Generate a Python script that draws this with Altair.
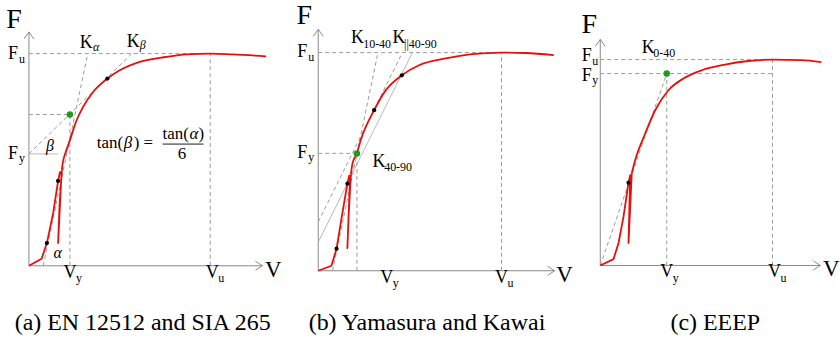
import altair as alt
import pandas as pd

# ---------------- data (V in % of Vu, F in % of Fu) ----------------
# (a) EN 12512 and SIA 265
a_curve_V = [0, 7.0, 9.9, 13.4, 16.1, 17.1, 18.0, 16.1, 16.9, 18.2, 18.5, 20.7, 22.6, 26.3, 29.9, 35.4, 43.3, 50.1, 61.1, 75.8, 86.8, 100, 112.4, 130.8]
a_curve_F = [0, 3.3, 10.7, 24.9, 40.0, 44.1, 44.1, 10.7, 28.7, 45.1, 47.5, 54.5, 59.2, 68.6, 74.9, 81.9, 88.2, 92.1, 96.1, 98.4, 99.6, 100, 99.6, 98.7]
a_smooth_from = 9
a_dots_V = [9.9, 16.1, 43.3]
a_dots_F = [10.7, 40.0, 88.2]
a_green = [22.6, 71.3]
a_Fy = 52.7
a_Kalpha = [7.9, 0, 32.1, 98.6]
a_Kbeta = [0, 52.7, 56.5, 99.8]
a_tips = [128.8, 110.2]

# (b) Yasumura and Kawai
b_curve_V = [0, 7.2, 10.0, 13.2, 15.9, 16.9, 17.4, 15.9, 16.6, 17.8, 18.7, 21.1, 23.2, 30.5, 36.9, 45.6, 55.0, 69.5, 84.0, 100, 113.1, 128.5]
b_curve_F = [0, 2.3, 10.1, 26.5, 39.9, 43.6, 43.4, 10.4, 25.6, 43.9, 49.2, 53.8, 59.9, 73.6, 82.8, 89.6, 94.2, 97.3, 99.3, 100, 99.8, 98.8]
b_smooth_from = 9
b_dots_V = [10.0, 15.9, 30.5, 45.6]
b_dots_F = [10.1, 39.9, 73.6, 89.6]
b_green = [21.1, 53.8]
b_K1040 = [7.8, 0, 32.3, 98.8]
b_Kpar = [0, 22.4, 45.2, 98.8]
b_K4090 = [0, 13.1, 51.2, 99.7]
b_tips = [129.0, 110.7]

# (c) EEEP
c_curve_V = [0, 7.7, 10.6, 13.5, 16.4, 17.4, 16.4, 17.3, 18.3, 20.3, 26.1, 31.9, 39.6, 48.3, 58.9, 72.4, 86.0, 100, 116.8, 128.4]
c_curve_F = [0, 3.1, 10.9, 23.7, 40.2, 43.9, 10.9, 27.0, 44.8, 51.2, 64.1, 75.4, 85.1, 90.8, 94.8, 97.6, 99.3, 100, 99.7, 98.8]
c_smooth_from = 8
c_dots_V = [16.4]
c_dots_F = [40.2]
c_green = [38.6, 93.2]
c_tips = [127.8, 109.8]

captions = ["(a) EN 12512 and SIA 265", "(b) Yamasura and Kawai", "(c) EEEP"]

# ---------------- styles / layout ----------------
H = 343
RED = "#e5100b"
AXIS = "#8a8a8a"
DASH = "#9c9c9c"
SERIF = "Liberation Serif"
CAPF = "Liberation Serif"

# x0, width, origin x (abs px), origin y, px per V unit, px per F unit
GEOM_A = (0, 280, 29.0, 266.0, 1.817, 2.127)
GEOM_B = (280, 290, 319.0, 271.0, 1.837, 2.187)
GEOM_C = (570, 270, 601.7, 265.7, 1.726, 2.064)


def build_panel(geom, curve_V, curve_F, smooth_from, dots_V, dots_F, green, dashed, thin, tips,
                labels, caption, cap_x, extra=None):
    x0, W, ox, oy, sx, sy = geom
    xs = alt.Scale(domain=[-(ox - x0) / sx, (x0 + W - ox) / sx], nice=False, zero=False)
    ys = alt.Scale(domain=[(oy - H) / sy, oy / sy], nice=False, zero=False)
    X = alt.X("V:Q", scale=xs, axis=None)
    Y = alt.Y("F:Q", scale=ys, axis=None)

    def segs(lst):
        return pd.DataFrame({"V": [s[0] for s in lst], "F": [s[1] for s in lst],
                             "V2": [s[2] for s in lst], "F2": [s[3] for s in lst]})

    layers = []
    # axes
    layers.append(alt.Chart(segs([[0, 0, tips[0], 0], [0, 0, 0, tips[1]]]))
                  .mark_rule(color=AXIS, strokeWidth=1)
                  .encode(x=X, y=Y, x2="V2:Q", y2="F2:Q"))
    layers.append(alt.Chart(pd.DataFrame({"V": [tips[0]], "F": [0]}))
                  .mark_point(shape="M-1,-0.65L0,0L-1,0.65", size=196, filled=False,
                              color=AXIS, strokeWidth=1, opacity=1)
                  .encode(x=X, y=Y))
    layers.append(alt.Chart(pd.DataFrame({"V": [0], "F": [tips[1]]}))
                  .mark_point(shape="M-0.7,1L0,0L0.7,1", size=196, filled=False,
                              color=AXIS, strokeWidth=1, opacity=1)
                  .encode(x=X, y=Y))
    # dashed guides
    layers.append(alt.Chart(segs(dashed))
                  .mark_rule(color=DASH, strokeWidth=1, strokeDash=[4, 3])
                  .encode(x=X, y=Y, x2="V2:Q", y2="F2:Q"))
    if thin:
        layers.append(alt.Chart(segs(thin))
                      .mark_rule(color="#a8a8a8", strokeWidth=0.8)
                      .encode(x=X, y=Y, x2="V2:Q", y2="F2:Q"))
    # curve: loading/unloading loop (straight), then the smooth envelope
    k = smooth_from
    loop_df = pd.DataFrame({"V": curve_V[:k + 1], "F": curve_F[:k + 1], "i": list(range(k + 1))})
    env_df = pd.DataFrame({"V": curve_V[k:], "F": curve_F[k:]})
    layers.append(alt.Chart(loop_df).mark_line(color=RED, strokeWidth=1.8, strokeJoin="round")
                  .encode(x=X, y=Y, order="i:Q"))
    layers.append(alt.Chart(env_df).mark_line(color=RED, strokeWidth=1.8, interpolate="monotone")
                  .encode(x=X, y=Y))
    layers.append(alt.Chart(pd.DataFrame({"V": dots_V, "F": dots_F}))
                  .mark_circle(color="black", size=18, opacity=1).encode(x=X, y=Y))
    layers.append(alt.Chart(pd.DataFrame({"V": [green[0]], "F": [green[1]]}))
                  .mark_circle(color="#1f9a1f", size=42, opacity=1).encode(x=X, y=Y))
    # labels anchored at data points
    for (v, f, t, size, dx, dy, align, italic) in labels:
        layers.append(alt.Chart(pd.DataFrame({"V": [v], "F": [f], "t": [t]}))
                      .mark_text(font=SERIF, fontSize=size, dx=dx, dy=dy, align=align,
                                 baseline="alphabetic", color="black",
                                 fontStyle="italic" if italic else "normal")
                      .encode(x=X, y=Y, text="t:N"))
    if extra:
        layers.extend(extra)
    layers.append(alt.Chart(pd.DataFrame({"t": [caption]}))
                  .mark_text(font=CAPF, fontSize=24, align="center", baseline="alphabetic",
                             color="black")
                  .encode(x=alt.value(cap_x), y=alt.value(330), text="t:N"))
    return alt.layer(*layers).properties(width=W, height=H)


BIG_F, BIG_V, MID, SUB = 28, 23, 18, 12

# ---- panel (a)
a_dashed = [[0, 100, 100, 100], [100, 0, 100, 100], [a_green[0], 0, a_green[0], a_green[1]],
            [0, a_green[1], a_green[0], a_green[1]], a_Kalpha, a_Kbeta]
a_thin = [[0, a_Fy, 16, a_Fy]]
a_labels = [
    (0, a_tips[1], "F", BIG_F, -15, -4, "center", False),
    (a_tips[0], 0, "V", BIG_V, 11, 11, "center", False),
    (0, 100, "F", MID, -11, 5, "right", False),
    (0, 100, "u", SUB, -10, 9, "left", False),
    (0, a_Fy, "F", MID, -11, 5, "right", False),
    (0, a_Fy, "y", SUB, -10, 8, "left", False),
    (0, a_Fy, "β", 16, 21, -3, "center", True),
    (a_Kalpha[0], 0, "α", 16, 14.5, -8, "center", True),
    (a_Kalpha[2], a_Kalpha[3], "K", MID, -7.3, -8.7, "left", False),
    (a_Kalpha[2], a_Kalpha[3], "α", SUB, 6, -5.5, "left", True),
    (a_Kbeta[2], a_Kbeta[3], "K", MID, -4.7, -7, "left", False),
    (a_Kbeta[2], a_Kbeta[3], "β", SUB, 8.5, -5, "left", True),
    (a_green[0], 0, "V", MID, 0, 12, "center", False),
    (a_green[0], 0, "y", SUB, 6, 16, "left", False),
    (100, 0, "V", MID, 2, 12, "center", False),
    (100, 0, "u", SUB, 8, 16, "left", False),
]


def ptext(t, x, y, size, align="center", italic=False):
    return (alt.Chart(pd.DataFrame({"t": [t]}))
            .mark_text(font=SERIF, fontSize=size, align=align, baseline="alphabetic", color="black",
                       fontStyle="italic" if italic else "normal")
            .encode(x=alt.value(x), y=alt.value(y), text="t:N"))


a_extra = [
    ptext("tan(", 97, 148, 17, "left"),
    ptext("β", 124, 148, 17, "left", True),
    ptext(") =", 134, 148, 17, "left"),
    ptext("tan(", 163, 139, 17, "left"),
    ptext("α", 190, 139, 17, "left", True),
    ptext(")", 199, 139, 17, "left"),
    ptext("6", 182.5, 159, 17),
    alt.Chart(pd.DataFrame({"k": [0]})).mark_rule(color="black", strokeWidth=0.9)
    .encode(x=alt.value(163), x2=alt.value(204), y=alt.value(144)),
]
pa = build_panel(GEOM_A, a_curve_V, a_curve_F, a_smooth_from, a_dots_V, a_dots_F, a_green, a_dashed,
                 a_thin, a_tips, a_labels, captions[0], 143, a_extra)

# ---- panel (b)
b_dashed = [[0, 100, 100, 100], [100, 0, 100, 100], [b_green[0], 0, b_green[0], b_green[1]],
            [0, b_green[1], b_green[0], b_green[1]], b_K1040, b_Kpar]
b_labels = [
    (0, b_tips[1], "F", BIG_F, -14, -5, "center", False),
    (b_tips[0], 0, "V", BIG_V, 10, 11, "center", False),
    (0, 100, "F", MID, -11, 4, "right", False),
    (0, 100, "u", SUB, -10, 8, "left", False),
    (0, b_green[1], "F", MID, -11, 5, "right", False),
    (0, b_green[1], "y", SUB, -10, 8, "left", False),
    (b_K1040[2], b_K1040[3], "K", MID, -26.6, -12, "left", False),
    (b_K1040[2], b_K1040[3], "10-40", SUB, -14.3, -7, "left", False),
    (b_Kpar[2], b_Kpar[3], "K", MID, -8.7, -12, "left", False),
    (b_Kpar[2], b_Kpar[3], "||40-90", SUB, 3, -7, "left", False),
    (b_green[0], b_green[1], "K", MID, 15.6, 13.7, "left", False),
    (b_green[0], b_green[1], "40-90", SUB, 27.3, 17.5, "left", False),
    (b_green[0], 0, "V", MID, 30, 12, "center", False),
    (b_green[0], 0, "y", SUB, 36, 16, "left", False),
    (100, 0, "V", MID, 0, 12, "center", False),
    (100, 0, "u", SUB, 6, 16, "left", False),
]
pb = build_panel(GEOM_B, b_curve_V, b_curve_F, b_smooth_from, b_dots_V, b_dots_F, b_green, b_dashed,
                 [b_K4090], b_tips, b_labels, captions[1], 148)

# ---- panel (c)
c_dashed = [[0, 100, 100, 100], [0, c_green[1], 100, c_green[1]], [100, 0, 100, 100],
            [c_green[0], 0, c_green[0], c_green[1]], [0, 0, c_green[0], c_green[1]]]
c_labels = [
    (0, c_tips[1], "F", BIG_F, -11, -6, "center", False),
    (c_tips[0], 0, "V", BIG_V, 11, 11, "center", False),
    (0, 100, "F", MID, -8.5, 1, "right", False),
    (0, 100, "u", SUB, -8, 5, "left", False),
    (0, c_green[1], "F", MID, -8.5, 7, "right", False),
    (0, c_green[1], "y", SUB, -8, 10, "left", False),
    (c_green[0], c_green[1], "K", MID, -25, -21, "left", False),
    (c_green[0], c_green[1], "0-40", SUB, -13.5, -17, "left", False),
    (c_green[0], 0, "V", MID, 0, 12, "center", False),
    (c_green[0], 0, "y", SUB, 6, 17, "left", False),
    (100, 0, "V", MID, 2, 12, "center", False),
    (100, 0, "u", SUB, 8, 17, "left", False),
]
pc = build_panel(GEOM_C, c_curve_V, c_curve_F, c_smooth_from, c_dots_V, c_dots_F, c_green, c_dashed,
                 None, c_tips, c_labels, captions[2], 147)

chart = (alt.hconcat(pa, pb, pc, spacing=0, bounds="flush")
         .properties(padding=0)
         .configure_view(stroke=None))

chart.save("out.html", embed_options={"renderer": "svg", "actions": False})
